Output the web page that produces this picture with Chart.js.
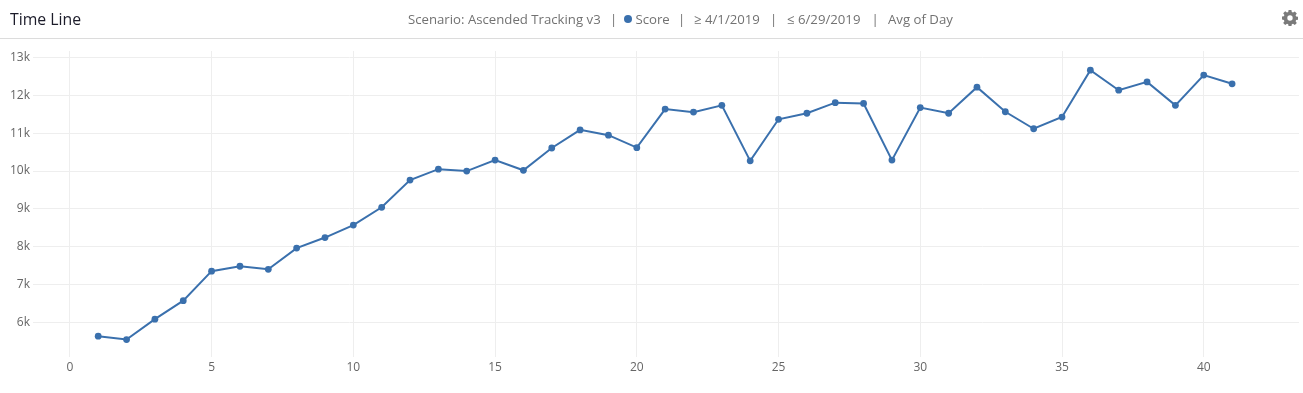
<!DOCTYPE html>
<html>
<head>
<meta charset="utf-8">
<script src="https://cdn.jsdelivr.net/npm/chart.js@4/dist/chart.umd.min.js"></script>
<style>
html,body{margin:0;padding:0;background:#fff;width:1303px;height:393px;overflow:hidden;font-family:"Open Sans",sans-serif}
#title{position:absolute;left:10px;top:8px;font-size:15.8px;line-height:22px;color:#1c1c2a;white-space:nowrap}
#filters{position:absolute;left:407px;top:9px;font-size:13.2px;line-height:20px;color:#727272;white-space:nowrap}
#filters span{position:absolute;top:0}
#dot{position:absolute;left:217px;top:6px;width:8px;height:8px;border-radius:50%;background:#3a70ad}
#rule{position:absolute;left:0;top:38px;width:1303px;height:1px;background:#dcdcdc}
#gear{position:absolute;left:1282px;top:10px}
#wrap{position:absolute;left:0;top:0;width:1303px;height:393px}
</style>
</head>
<body>
<div id="wrap"><canvas id="c" width="1303" height="393"></canvas></div>
<div id="title">Time Line</div>
<div id="filters">
<span style="left:1px">Scenario: Ascended Tracking v3</span>
<span style="left:203px">|</span>
<div id="dot"></div>
<span style="left:228.500px">Score</span>
<span style="left:271px">|</span>
<span style="left:287px">≥ 4/1/2019</span>
<span style="left:363px">|</span>
<span style="left:380px">≤ 6/29/2019</span>
<span style="left:464.500px">|</span>
<span style="left:481px">Avg of Day</span>
</div>
<div id="rule"></div>
<svg id="gear" width="16" height="16" viewBox="0 0 16 16"><path fill="#7a7a7a" fill-rule="evenodd" d="M6.6 0h2.8l.4 2.1 1.2.5L12.800 1.400l2 2-1.200 1.800.5 1.200 2.100.4v2.800l-2.100.4-.5 1.200 1.200 1.800-2 2-1.800-1.200-1.200.5-.4 2.100H6.600l-.4-2.100-1.200-.5-1.800 1.200-2-2 1.200-1.800-.5-1.200L-.2 9.400V6.600l2.100-.4.500-1.200-1.200-1.800 2-2L5 2.600l1.200-.5zM8 5.300a2.700 2.700 0 1 0 0 5.400 2.700 2.700 0 0 0 0-5.400z"/></svg>
<script>
const xValues = [1,2,3,4,5,6,7,8,9,10,11,12,13,14,15,16,17,18,19,20,21,22,23,24,25,26,27,28,29,30,31,32,33,34,35,36,37,38,39,40,41];
const scoreValues = [5630,5540,6080,6570,7350,7480,7400,7960,8240,8570,9040,9760,10050,10000,10290,10020,10610,11090,10950,10620,11640,11560,11740,10270,11370,11530,11810,11790,10290,11680,11530,12220,11570,11120,11430,12670,12140,12360,11740,12540,12310];
const xTicks = [0,5,10,15,20,25,30,35,40];
const yTicks = [6000,7000,8000,9000,10000,11000,12000,13000];
const seriesName = "Score";
const lineColor = "#3a70ad";
const gridColor = "#eeeeee";
const tickColor = "#666666";

new Chart(document.getElementById("c"), {
  type: "line",
  data: {
    datasets: [{
      label: seriesName,
      data: xValues.map((x, i) => ({ x, y: scoreValues[i] })),
      borderColor: lineColor,
      backgroundColor: lineColor,
      borderWidth: 2,
      pointRadius: 3.4,
      pointBorderWidth: 0,
      pointBackgroundColor: lineColor,
      tension: 0,
      fill: false
    }]
  },
  options: {
    responsive: false,
    animation: false,
    layout: { padding: { top: 51, right: 3, left: 0, bottom: 0 } },
    plugins: { legend: { display: false }, tooltip: { enabled: false }, title: { display: false } },
    scales: {
      x: {
        type: "linear",
        min: -1.3,
        max: 43.36,
        afterBuildTicks: s => { s.ticks = xTicks.map(v => ({ value: v })); },
        afterFit: s => { s.height = 36; },
        grid: { color: gridColor, lineWidth: 1, drawTicks: false },
        border: { display: false },
        ticks: { color: tickColor, padding: 3, maxRotation: 0, autoSkip: false, font: { family: "'Open Sans'", size: 12 } }
      },
      y: {
        min: 5078,
        max: 13178,
        afterBuildTicks: s => { s.ticks = yTicks.map(v => ({ value: v })); },
        afterFit: s => { s.width = 33; },
        grid: { color: gridColor, lineWidth: 1, drawTicks: false },
        border: { display: false },
        ticks: { color: tickColor, padding: 3, autoSkip: false, callback: v => (v / 1000) + "k", font: { family: "'Open Sans'", size: 12 } }
      }
    }
  }
});
</script>
</body>
</html>
